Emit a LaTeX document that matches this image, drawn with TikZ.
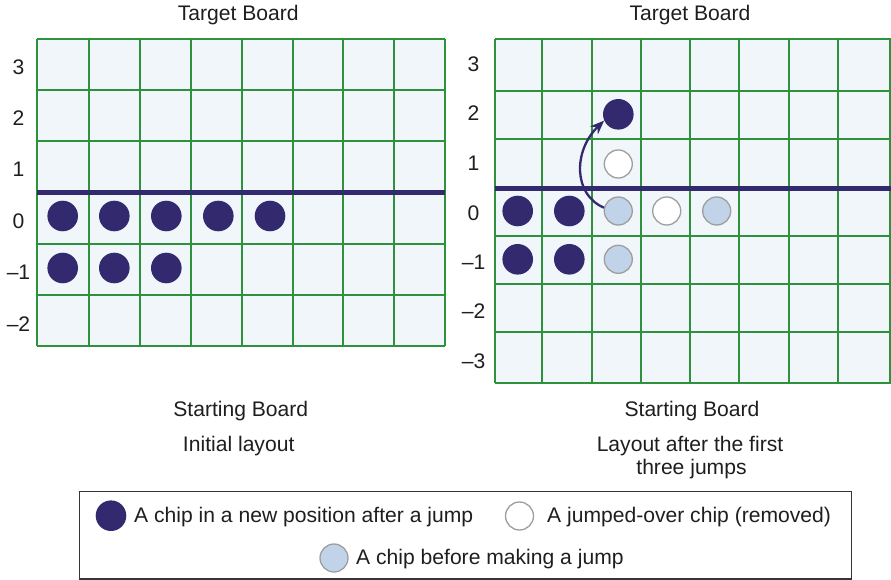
\documentclass[tikz,border=0pt]{standalone}
\usepackage{fontspec}
\setmainfont{Liberation Sans}
\usetikzlibrary{arrows.meta}
\definecolor{navy}{RGB}{51,41,110}
\definecolor{gridgreen}{RGB}{46,146,60}
\definecolor{cellbg}{RGB}{240,246,250}
\definecolor{chipblue}{RGB}{193,211,233}
\definecolor{chipedge}{RGB}{158,158,158}
\definecolor{ink}{RGB}{30,30,30}
\tikzset{
  txt/.style={inner sep=0pt, text=ink, font=\fontsize{21.1pt}{25pt}\selectfont},
  gridline/.style={draw=gridgreen, line width=1.9pt},
  board/.style={fill=cellbg},
  targetline/.style={draw=navy, line width=4.8pt},
  darkchip/.style={circle, inner sep=0pt, minimum size=30.6pt, fill=navy},
  usedchip/.style={circle, inner sep=0pt, minimum size=28pt, fill=white, draw=chipedge, line width=1.3pt},
  waitchip/.style={circle, inner sep=0pt, minimum size=28pt, fill=chipblue, draw=chipedge, line width=1.3pt},
  jumparrow/.style={draw=navy, line width=2.3pt, -{Stealth[length=14pt,width=11pt]}},
  legendbox/.style={draw=ink!90, line width=1.3pt}
}
\begin{document}
\begin{tikzpicture}[x=1pt,y=-1pt]
\useasboundingbox (0,0) rectangle (891,580);

% ---------- left board: initial layout ----------
\fill[board] (37.3,39.3) rectangle (445.3,346);
\foreach \x in {37.3,89.3,140,191,242,292.7,343.3,394.3,445.3}
  \draw[gridline] (\x,39.3) -- (\x,346);
\foreach \y in {39.3,90,141,243.7,295,346}
  \draw[gridline] (37.3,\y) -- (445.3,\y);
\draw[targetline] (37.3,192.5) -- (445.3,192.5);

\foreach \lab/\yb [count=\i] in {3/75,2/126,1/176.7,0/228.3,{–1}/279.3,{–2}/331.7}
  \node[txt, anchor=base] (lrow\i) at (18.5,\yb) {\lab};

\foreach \x [count=\i] in {62.7,114.3,166.3,218.3,270}
  \node[darkchip] (la\i) at (\x,216) {};
\foreach \x [count=\i] in {62.7,114.3,166.3}
  \node[darkchip] (lb\i) at (\x,268) {};

\node[txt, anchor=base] (ltarget) at (238.3,20.7) {Target Board};
\node[txt, anchor=base] (lstart) at (240.8,416.7) {Starting Board};
\node[txt, anchor=base] (lcap) at (238.7,451.3) {Initial layout};

% ---------- right board: after three jumps ----------
\fill[board] (495,39) rectangle (891,383.3);
\foreach \x in {495,542.3,592,641,690,739.3,789,838.3,890}
  \draw[gridline] (\x,39) -- (\x,383.3);
\foreach \y in {39,90.7,139,236,284,332.3,383.3}
  \draw[gridline] (495,\y) -- (891,\y);
\draw[targetline] (495,188.5) -- (891,188.5);

\foreach \lab/\yb [count=\i] in {3/71.7,2/120.7,1/170.7,0/220,{–1}/269.3,{–2}/318.3,{–3}/368.3}
  \node[txt, anchor=base] (rrow\i) at (473.5,\yb) {\lab};

\node[darkchip] (ra1) at (517.7,211) {};
\node[darkchip] (ra2) at (569.3,211) {};
\node[darkchip] (rb1) at (517.7,259.3) {};
\node[darkchip] (rb2) at (569.3,259.3) {};
\node[darkchip] (rtop) at (618.3,114.3) {};
\node[usedchip] (rmid) at (618.3,164) {};
\node[usedchip] (ra4) at (666.7,211) {};
\node[waitchip] (ra3) at (618.3,211) {};
\node[waitchip] (ra5) at (716.7,211) {};
\node[waitchip] (rb3) at (618.3,259.3) {};

\draw[jumparrow] (ra3.167) .. controls +(-31,-13) and +(-31,30) .. (rtop.204);

\node[txt, anchor=base] (rtarget) at (690,20.7) {Target Board};
\node[txt, anchor=base] (rstart) at (692,416.7) {Starting Board};
\node[txt, anchor=base] (rcap1) at (690,451.3) {Layout after the first};
\node[txt, anchor=base] (rcap2) at (691.5,474.5) {three jumps};

% ---------- legend ----------
\draw[legendbox] (79.3,491.7) rectangle (851.7,579);
\node[darkchip] (keydark) at (111,515.7) {};
\node[txt, anchor=base west] (keydarktxt) at (134,522.3) {A chip in a new position after a jump};
\node[usedchip] (keyused) at (519.5,516) {};
\node[txt, anchor=base west] (keyusedtxt) at (547,522.3) {A jumped-over chip (removed)};
\node[waitchip] (keywait) at (334,558) {};
\node[txt, anchor=base west] (keywaittxt) at (356,564.6) {A chip before making a jump};
\end{tikzpicture}
\end{document}
